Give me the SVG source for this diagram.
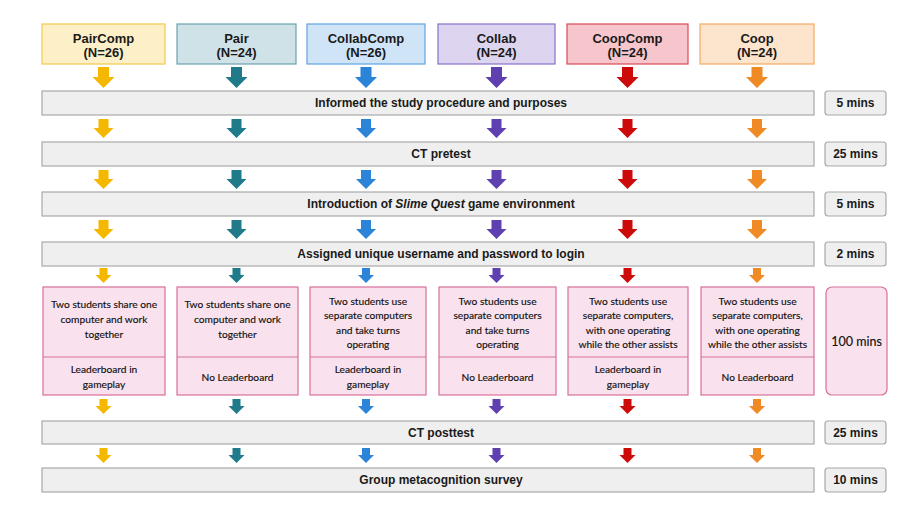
<svg xmlns="http://www.w3.org/2000/svg" xmlns:xlink="http://www.w3.org/1999/xlink" width="915" height="511" viewBox="0 0 915 511">
<style>
.hdr{font-family:"Liberation Sans",Arial,sans-serif;font-weight:bold;font-size:13px;fill:#1a1a1a;text-anchor:middle}
.bar{fill:#efefef;stroke:#a9a9a9;stroke-width:1.2}
.bart{font-family:"Liberation Sans",Arial,sans-serif;font-weight:bold;font-size:12px;fill:#1a1a1a;text-anchor:middle}
.dur{fill:#efefef;stroke:#a9a9a9;stroke-width:1.2}
.cond{fill:#f9e2ed;stroke:#d8709a;stroke-width:1.2}
.ct{font-family:Lato,"Open Sans",sans-serif;font-size:10.2px;fill:#111111;text-anchor:middle;stroke:#111111;stroke-width:0.15}
.big{font-size:12.5px}
.ai{fill:#f5b800}.a2{fill:#1f7a8a}.a3{fill:#2b84d8}.a4{fill:#5e40b0}.a5{fill:#cc0a0a}.a6{fill:#f08a24}
</style>
<defs>
<path id="arrb" d="M-5.5,0H5.5V10H11L0,21L-11,10H-5.5Z"/>
<path id="arr" d="M-5,0H5V9H10L0,19L-10,9H-5Z"/>
<path id="arrs" d="M-4,0H4V7H8L0,15L-8,7H-4Z"/>
</defs>
<rect width="915" height="511" fill="#ffffff"/>
<g id="PairComp"><rect x="42" y="24" width="123" height="40" fill="#fdf0c8" stroke="#f4c84a" stroke-width="1.2"/><text class="hdr" x="103.5" y="42.5">PairComp</text><text class="hdr" x="103.5" y="57">(N=26)</text></g>
<g id="Pair"><rect x="177" y="24" width="119" height="40" fill="#cfe2e8" stroke="#6aa2b0" stroke-width="1.2"/><text class="hdr" x="236.5" y="42.5">Pair</text><text class="hdr" x="236.5" y="57">(N=24)</text></g>
<g id="CollabComp"><rect x="307" y="24" width="118" height="40" fill="#cfe4f7" stroke="#62a4e0" stroke-width="1.2"/><text class="hdr" x="366" y="42.5">CollabComp</text><text class="hdr" x="366" y="57">(N=26)</text></g>
<g id="Collab"><rect x="438" y="24" width="117" height="40" fill="#ddd5ef" stroke="#8a70c8" stroke-width="1.2"/><text class="hdr" x="496.5" y="42.5">Collab</text><text class="hdr" x="496.5" y="57">(N=24)</text></g>
<g id="CoopComp"><rect x="567" y="24" width="121" height="40" fill="#f6c6cc" stroke="#da4a56" stroke-width="1.2"/><text class="hdr" x="627.5" y="42.5">CoopComp</text><text class="hdr" x="627.5" y="57">(N=24)</text></g>
<g id="Coop"><rect x="700" y="24" width="114" height="40" fill="#fde4cd" stroke="#f5ab60" stroke-width="1.2"/><text class="hdr" x="757" y="42.5">Coop</text><text class="hdr" x="757" y="57">(N=24)</text></g>

<g id="informed"><rect class="bar" x="42" y="91" width="772" height="24"/><text class="bart" x="441" y="107">Informed the study procedure and purposes</text></g>
<g id="d1"><rect class="dur" x="825" y="91" width="61" height="24" rx="3"/><text class="bart" x="855.5" y="107">5 mins</text></g>
<g id="pretest"><rect class="bar" x="42" y="142" width="772" height="24"/><text class="bart" x="441" y="158">CT pretest</text></g>
<g id="d2"><rect class="dur" x="825" y="142" width="61" height="24" rx="3"/><text class="bart" x="855.5" y="158">25 mins</text></g>
<g id="intro"><rect class="bar" x="42" y="192" width="772" height="24"/><text class="bart" x="441" y="208">Introduction of <tspan font-style="italic">Slime Quest</tspan> game environment</text></g>
<g id="d3"><rect class="dur" x="825" y="192" width="61" height="24" rx="3"/><text class="bart" x="855.5" y="208">5 mins</text></g>
<g id="assigned"><rect class="bar" x="42" y="242" width="772" height="24"/><text class="bart" x="441" y="258">Assigned unique username and password to login</text></g>
<g id="d4"><rect class="dur" x="825" y="242" width="61" height="24" rx="3"/><text class="bart" x="855.5" y="258">2 mins</text></g>

<g id="c1"><rect class="cond" x="43" y="287" width="122" height="108"/><line x1="43" y1="357" x2="165" y2="357" stroke="#d8709a" stroke-width="1.2"/><text class="ct" x="104" y="308">Two students share one</text><text class="ct" x="104" y="323">computer and work</text><text class="ct" x="104" y="338">together</text><text class="ct" x="104" y="373">Leaderboard in</text><text class="ct" x="104" y="388">gameplay</text></g>
<g id="c2"><rect class="cond" x="177" y="287" width="121" height="108"/><line x1="177" y1="357" x2="298" y2="357" stroke="#d8709a" stroke-width="1.2"/><text class="ct" x="237.5" y="308">Two students share one</text><text class="ct" x="237.5" y="323">computer and work</text><text class="ct" x="237.5" y="338">together</text><text class="ct" x="237.5" y="381">No Leaderboard</text></g>
<g id="c3"><rect class="cond" x="310" y="287" width="116" height="108"/><line x1="310" y1="357" x2="426" y2="357" stroke="#d8709a" stroke-width="1.2"/><text class="ct" x="368" y="305">Two students use</text><text class="ct" x="368" y="319">separate computers</text><text class="ct" x="368" y="334">and take turns</text><text class="ct" x="368" y="348">operating</text><text class="ct" x="368" y="373">Leaderboard in</text><text class="ct" x="368" y="388">gameplay</text></g>
<g id="c4"><rect class="cond" x="439" y="287" width="117" height="108"/><line x1="439" y1="357" x2="556" y2="357" stroke="#d8709a" stroke-width="1.2"/><text class="ct" x="497.5" y="305">Two students use</text><text class="ct" x="497.5" y="319">separate computers</text><text class="ct" x="497.5" y="334">and take turns</text><text class="ct" x="497.5" y="348">operating</text><text class="ct" x="497.5" y="381">No Leaderboard</text></g>
<g id="c5"><rect class="cond" x="568" y="287" width="120" height="108"/><line x1="568" y1="357" x2="688" y2="357" stroke="#d8709a" stroke-width="1.2"/><text class="ct" x="628" y="305">Two students use</text><text class="ct" x="628" y="319">separate computers,</text><text class="ct" x="628" y="334">with one operating</text><text class="ct" x="628" y="348">while the other assists</text><text class="ct" x="628" y="373">Leaderboard in</text><text class="ct" x="628" y="388">gameplay</text></g>
<g id="c6"><rect class="cond" x="701" y="287" width="113" height="108"/><line x1="701" y1="357" x2="814" y2="357" stroke="#d8709a" stroke-width="1.2"/><text class="ct" x="757.5" y="305">Two students use</text><text class="ct" x="757.5" y="319">separate computers,</text><text class="ct" x="757.5" y="334">with one operating</text><text class="ct" x="757.5" y="348">while the other assists</text><text class="ct" x="757.5" y="381">No Leaderboard</text></g>
<g id="d5"><rect class="cond" x="826" y="287" width="61" height="108" rx="6"/><text class="ct big" x="856.5" y="346">100 mins</text></g>

<g id="posttest"><rect class="bar" x="42" y="421" width="772" height="23"/><text class="bart" x="441" y="437">CT posttest</text></g>
<g id="d6"><rect class="dur" x="825" y="421" width="61" height="23" rx="3"/><text class="bart" x="855.5" y="437">25 mins</text></g>
<g id="survey"><rect class="bar" x="42" y="468" width="772" height="24"/><text class="bart" x="441" y="484">Group metacognition survey</text></g>
<g id="d7"><rect class="dur" x="825" y="468" width="61" height="24" rx="3"/><text class="bart" x="855.5" y="484">10 mins</text></g>

<g id="connectors">
<g transform="translate(0,67)"><use href="#arrb" x="103.5" class="ai"/><use href="#arrb" x="236.5" class="a2"/><use href="#arrb" x="366" class="a3"/><use href="#arrb" x="496.5" class="a4"/><use href="#arrb" x="627.5" class="a5"/><use href="#arrb" x="757" class="a6"/></g>
<g transform="translate(0,119)"><use href="#arr" x="103.5" class="ai"/><use href="#arr" x="236.5" class="a2"/><use href="#arr" x="366" class="a3"/><use href="#arr" x="496.5" class="a4"/><use href="#arr" x="627.5" class="a5"/><use href="#arr" x="757" class="a6"/></g>
<g transform="translate(0,170)"><use href="#arr" x="103.5" class="ai"/><use href="#arr" x="236.5" class="a2"/><use href="#arr" x="366" class="a3"/><use href="#arr" x="496.5" class="a4"/><use href="#arr" x="627.5" class="a5"/><use href="#arr" x="757" class="a6"/></g>
<g transform="translate(0,220)"><use href="#arr" x="103.5" class="ai"/><use href="#arr" x="236.5" class="a2"/><use href="#arr" x="366" class="a3"/><use href="#arr" x="496.5" class="a4"/><use href="#arr" x="627.5" class="a5"/><use href="#arr" x="757" class="a6"/></g>
<g transform="translate(0,268)"><use href="#arrs" x="103.5" class="ai"/><use href="#arrs" x="236.5" class="a2"/><use href="#arrs" x="366" class="a3"/><use href="#arrs" x="496.5" class="a4"/><use href="#arrs" x="627.5" class="a5"/><use href="#arrs" x="757" class="a6"/></g>
<g transform="translate(0,399)"><use href="#arrs" x="103.5" class="ai"/><use href="#arrs" x="236.5" class="a2"/><use href="#arrs" x="366" class="a3"/><use href="#arrs" x="496.5" class="a4"/><use href="#arrs" x="627.5" class="a5"/><use href="#arrs" x="757" class="a6"/></g>
<g transform="translate(0,448)"><use href="#arrs" x="103.5" class="ai"/><use href="#arrs" x="236.5" class="a2"/><use href="#arrs" x="366" class="a3"/><use href="#arrs" x="496.5" class="a4"/><use href="#arrs" x="627.5" class="a5"/><use href="#arrs" x="757" class="a6"/></g>
</g>
</svg>
